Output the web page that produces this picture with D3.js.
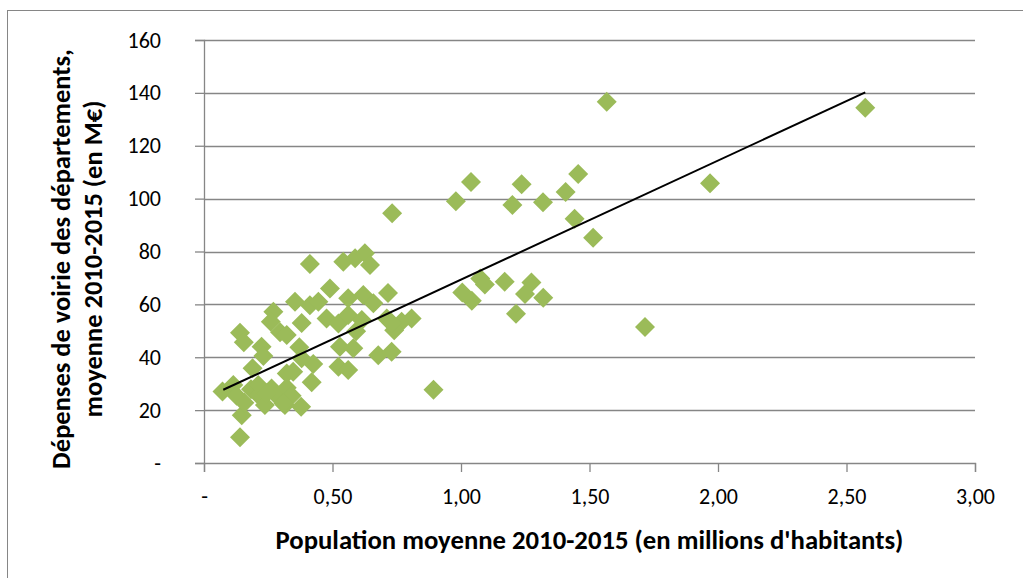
<!DOCTYPE html>
<html>
<head>
<meta charset="utf-8">
<script src="https://cdn.jsdelivr.net/npm/d3@7"></script>
<style>
  html, body { margin: 0; padding: 0; background: #fff; }
  svg { display: block; }
  text { font-family: Carlito, Calibri, Lato, "Open Sans", sans-serif; fill: #000; }
</style>
</head>
<body>
<svg id="chart" width="1023" height="578"></svg>
<script>
// Population moyenne 2010-2015 (millions d'habitants)
const population = [
  1.567, 2.573, 1.969, 1.039, 1.456, 1.236, 1.407, 0.980, 1.200, 1.319,
  1.442, 1.514, 1.075, 1.093, 1.170, 1.274, 1.005, 1.042, 1.249, 1.320,
  1.214, 1.716, 0.893, 0.732, 0.412, 0.542, 0.588, 0.626, 0.646, 0.490,
  0.716, 0.354, 0.412, 0.445, 0.561, 0.620, 0.659, 0.477, 0.523, 0.561,
  0.614, 0.711, 0.769, 0.808, 0.270, 0.260, 0.296, 0.322, 0.380, 0.140,
  0.155, 0.592, 0.740, 0.730, 0.529, 0.581, 0.523, 0.561, 0.678, 0.730,
  0.371, 0.224, 0.231, 0.425, 0.419, 0.189, 0.072, 0.147, 0.140, 0.380,
  0.322, 0.347, 0.114, 0.127, 0.157, 0.183, 0.211, 0.237, 0.263, 0.283,
  0.315, 0.322, 0.341, 0.378, 0.211, 0.244, 0.309
];
// Dépenses de voirie, moyenne 2010-2015 (M€)
const depenses = [
  136.6, 134.4, 105.8, 106.3, 109.3, 105.4, 102.5, 99.0, 97.6, 98.6,
  92.4, 85.2, 69.8, 67.5, 68.6, 68.3, 64.5, 61.4, 63.9, 62.5,
  56.5, 51.4, 27.7, 94.5, 75.3, 76.1, 77.4, 79.3, 74.9, 66.0,
  64.3, 61.0, 59.7, 61.0, 62.3, 63.5, 60.4, 54.7, 52.8, 56.0,
  54.1, 54.7, 53.4, 54.7, 57.2, 53.4, 49.5, 48.4, 53.0, 49.3,
  45.7, 49.8, 50.2, 53.0, 44.0, 43.4, 36.4, 35.2, 40.8, 42.1,
  43.8, 44.0, 40.5, 37.4, 30.5, 35.8, 27.0, 18.1, 9.7, 39.6,
  33.9, 34.5, 29.5, 25.4, 22.8, 27.9, 25.7, 21.9, 28.2, 25.4,
  21.9, 28.5, 25.4, 21.3, 29.5, 26.4, 22.6
];
// Linear trend line end points (as drawn)
const trendX = [0.075, 2.573];
const trendY = [27.7, 140.2];

const xTickValues = [0, 0.5, 1, 1.5, 2, 2.5, 3];
const xTickLabels = ["-", "0,50", "1,00", "1,50", "2,00", "2,50", "3,00"];
const yTickValues = [0, 20, 40, 60, 80, 100, 120, 140, 160];
const yTickLabels = ["-", "20", "40", "60", "80", "100", "120", "140", "160"];

const xTitle = "Population moyenne 2010-2015 (en millions d'habitants)";
const yTitle1 = "Dépenses de voirie des départements,";
const yTitle2 = "moyenne 2010-2015 (en M€)";

const svg = d3.select("#chart");
const grid = "#868686";

const x = d3.scaleLinear().domain([0, 3]).range([204, 975]);
const y = d3.scaleLinear().domain([0, 160]).range([463, 40]);

// fit a text element's font size so that it spans a target width
function fit(sel, target) {
  const node = sel.node();
  const base = 20;
  sel.style("font-size", base + "px");
  const len = node.getComputedTextLength();
  sel.style("font-size", (base * target / len).toFixed(2) + "px");
}

// outer chart border (top & left visible)
svg.append("rect")
  .attr("x", 7.5).attr("y", 10.5)
  .attr("width", 1100).attr("height", 700)
  .attr("fill", "none").attr("stroke", grid).attr("stroke-width", 1);

// gridlines
svg.append("g")
  .selectAll("line")
  .data(yTickValues.filter(v => v > 0))
  .join("line")
  .attr("x1", x(0)).attr("x2", x(3))
  .attr("y1", d => Math.round(y(d)) + 0.5).attr("y2", d => Math.round(y(d)) + 0.5)
  .attr("stroke", grid).attr("stroke-width", 1.3);

// y axis
const yAxis = d3.axisLeft(y)
  .tickValues(yTickValues)
  .tickFormat((d, i) => yTickLabels[i])
  .tickSize(9).tickPadding(34);
const gy = svg.append("g").attr("transform", `translate(${x(0)},0)`).call(yAxis);
gy.select(".domain").attr("stroke", grid).attr("stroke-width", 1.3);
gy.selectAll(".tick line").attr("stroke", grid).attr("stroke-width", 1.3);
gy.selectAll(".tick text").style("font-size", "22px").attr("fill", "#000");

// x axis
const xAxis = d3.axisBottom(x)
  .tickValues(xTickValues)
  .tickFormat((d, i) => xTickLabels[i])
  .tickSize(9).tickPadding(16);
const gx = svg.append("g").attr("transform", `translate(0,${y(0)})`).call(xAxis);
gx.select(".domain").attr("stroke", grid).attr("stroke-width", 1.3);
gx.selectAll(".tick line").attr("stroke", grid).attr("stroke-width", 1.3);
gx.selectAll(".tick text").style("font-size", "22px").attr("fill", "#000");

// points
const pts = population.map((p, i) => ({ p, d: depenses[i] }));
svg.append("g")
  .selectAll("path")
  .data(pts)
  .join("path")
  .attr("transform", d => `translate(${x(d.p)},${y(d.d)})`)
  .attr("d", "M0,-10L10,0L0,10L-10,0Z")
  .attr("fill", "#9BBB59");

// trend line
svg.append("line")
  .attr("x1", x(trendX[0])).attr("y1", y(trendY[0]))
  .attr("x2", x(trendX[1])).attr("y2", y(trendY[1]))
  .attr("stroke", "#000").attr("stroke-width", 2);

// axis titles
const tx = svg.append("text")
  .attr("x", (x(0) + x(3)) / 2).attr("y", 540)
  .attr("text-anchor", "middle").attr("dominant-baseline", "central")
  .style("font-weight", "bold")
  .text(xTitle);
fit(tx, 628);

const ty1 = svg.append("text")
  .attr("transform", "translate(61,259) rotate(-90)")
  .attr("text-anchor", "middle").attr("dominant-baseline", "central")
  .style("font-weight", "bold")
  .text(yTitle1);
fit(ty1, 420);
const ty2 = svg.append("text")
  .attr("transform", "translate(93,259) rotate(-90)")
  .attr("text-anchor", "middle").attr("dominant-baseline", "central")
  .style("font-weight", "bold")
  .text(yTitle2);
ty2.style("font-size", ty1.style("font-size"));
</script>
</body>
</html>
